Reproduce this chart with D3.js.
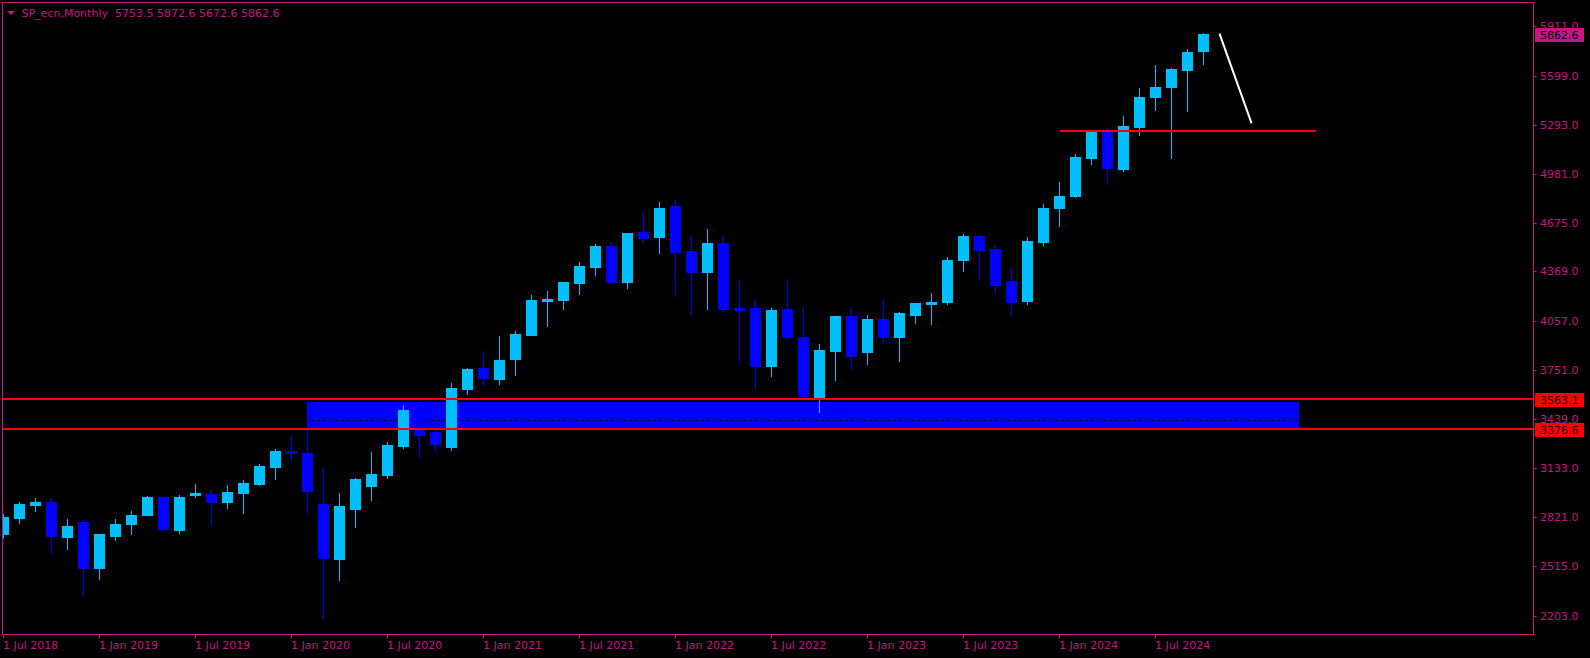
<!DOCTYPE html>
<html>
<head>
<meta charset="utf-8">
<script src="https://cdn.jsdelivr.net/npm/d3@7"></script>
<style>
  html, body { margin: 0; padding: 0; background: #000; }
  svg { display: block; }
  text { font-family: "DejaVu Sans", sans-serif; font-size: 11px; }
</style>
</head>
<body>
<svg id="chart" width="1590" height="658"></svg>
<script>
// ---------- DATA ----------
const symbolTitle = "SP_ecn,Monthly";
const months = [
  "2018-07","2018-08","2018-09","2018-10","2018-11","2018-12",
  "2019-01","2019-02","2019-03","2019-04","2019-05","2019-06","2019-07","2019-08","2019-09","2019-10","2019-11","2019-12",
  "2020-01","2020-02","2020-03","2020-04","2020-05","2020-06","2020-07","2020-08","2020-09","2020-10","2020-11","2020-12",
  "2021-01","2021-02","2021-03","2021-04","2021-05","2021-06","2021-07","2021-08","2021-09","2021-10","2021-11","2021-12",
  "2022-01","2022-02","2022-03","2022-04","2022-05","2022-06","2022-07","2022-08","2022-09","2022-10","2022-11","2022-12",
  "2023-01","2023-02","2023-03","2023-04","2023-05","2023-06","2023-07","2023-08","2023-09","2023-10","2023-11","2023-12",
  "2024-01","2024-02","2024-03","2024-04","2024-05","2024-06","2024-07","2024-08","2024-09","2024-10"
];
const openV = [2715,2817,2897,2915,2698,2790,2503,2704,2780,2834,2950,2740,2960,2966,2918,2973,3030,3138,
  3237,3226,2903,2559,2874,3019,3088,3270,3495,3358,3264,3627,
  3759,3690,3816,3967,4181,4187,4294,4395,4527,4300,4615,4583,
  4778,4495,4363,4546,4137,4137,3772,4130,3954,3577,3866,4086,
  3860,4067,3954,4093,4162,4174,4439,4590,4508,4307,4181,4552,
  4766,4841,5081,5246,5011,5276,5464,5527,5634,5753.5];
const highV = [2845,2916,2941,2940,2814,2805,2716,2813,2859,2953,2958,2965,3029,2991,3023,3055,3155,3249,
  3338,3390,3134,2973,3067,3231,3294,3526,3583,3550,3669,3761,
  3866,3960,3992,4218,4244,4303,4426,4539,4546,4610,4741,4804,
  4816,4590,4634,4590,4306,4187,4137,4319,4143,3910,4087,4137,
  4093,4193,4111,4170,4231,4458,4602,4596,4533,4395,4583,4791,
  4929,5106,5262,5269,5345,5521,5666,5648,5766,5872.6];
const lowV = [2692,2786,2861,2597,2622,2331,2431,2679,2717,2834,2740,2721,2949,2771,2880,2847,3023,3063,
  3174,2847,2188,2425,2761,2930,3069,3258,3201,3226,3245,3596,
  3652,3658,3715,3966,4023,4130,4225,4344,4294,4263,4552,4483,
  4212,4099,4130,4111,3803,3627,3709,3942,3577,3482,3684,3753,
  3784,3935,3803,4042,4036,4162,4369,4325,4231,4093,4162,4533,
  4653,4835,5043,4917,4999,5225,5382,5083,5376,5672.6];
const closeV = [2821,2903,2915,2704,2765,2503,2714,2782,2834,2950,2746,2947,2973,2918,2979,3036,3142,3237,
  3226,2985,2566,2891,3061,3092,3275,3495,3338,3283,3633,3753,
  3698,3810,3973,4187,4193,4300,4401,4527,4300,4608,4577,4766,
  4490,4363,4546,4130,4124,3772,4124,3954,3583,3872,4086,3835,
  4067,3954,4105,4168,4174,4439,4590,4502,4281,4174,4558,4766,
  4841,5087,5250,5018,5282,5464,5527,5640,5750,5862.6];

const priceTicks = [5911, 5599, 5293, 4981, 4675, 4369, 4057, 3751, 3439, 3133, 2821, 2515, 2203];
const timeTickIndex = [0, 6, 12, 18, 24, 30, 36, 42, 48, 54, 60, 66, 72];
const timeTickLabels = ["1 Jul 2018","1 Jan 2019","1 Jul 2019","1 Jan 2020","1 Jul 2020","1 Jan 2021",
  "1 Jul 2021","1 Jan 2022","1 Jul 2022","1 Jan 2023","1 Jul 2023","1 Jan 2024","1 Jul 2024"];

// drawn objects
const levelPrices = [3563.1, 3376.6];          // red horizontal lines with labels
const zoneBars = [19, 81];                     // blue zone: bar index from..to
const zonePrices = [3548, 3376.6];             // blue zone: top, bottom
const zoneMidBars = [19.2, 80.9];
const zoneMidPrice = 3436;                     // dashed line inside zone
const resistBars = [66, 82];
const resistPrice = 5251.6;                    // short red horizontal line
const arrowBars = [76, 78];
const arrowPrices = [5865, 5302.6];            // white trend line
const bidPrice = 5862.6;

// ---------- LAYOUT ----------
const W = 1590, H = 658;
const plot = { left: 2.5, top: 2.5, right: 1533.5, bottom: 634.5 };
const pink = "#C71585", bull = "#00BFFF", bear = "#0000FF";

const x = d3.scaleLinear().domain([0, 72]).range([3.5, 3.5 + 16 * 72]);
const y = d3.scaleLinear().domain([2203, 5911]).range([615.6, 26.4]);
const yr = p => Math.round(y(p));

const svg = d3.select("#chart");
svg.append("rect").attr("width", W).attr("height", H).attr("fill", "#000");

svg.append("defs").append("clipPath").attr("id", "clip")
  .append("rect").attr("x", 3).attr("y", 3).attr("width", plot.right - 3.5).attr("height", plot.bottom - 3.5);

const g = svg.append("g").attr("clip-path", "url(#clip)");

// zone rectangle (background)
g.append("rect")
  .attr("x", x(zoneBars[0]) - 0.5).attr("width", x(zoneBars[1]) - x(zoneBars[0]))
  .attr("y", yr(zonePrices[0])).attr("height", yr(zonePrices[1]) - yr(zonePrices[0]))
  .attr("fill", "#0000FF").attr("shape-rendering", "crispEdges");
g.append("line")
  .attr("x1", x(zoneMidBars[0])).attr("x2", x(zoneMidBars[1]))
  .attr("y1", yr(zoneMidPrice) + 0.5).attr("y2", yr(zoneMidPrice) + 0.5)
  .attr("stroke", "#000020").attr("stroke-width", 1).attr("stroke-dasharray", "3,3")
  .attr("shape-rendering", "crispEdges");

// candles
const bars = months.map((m, i) => ({ i, o: openV[i], h: highV[i], l: lowV[i], c: closeV[i] }));
const cg = g.append("g");
bars.forEach(b => {
  const cx = x(b.i);
  const col = b.c >= b.o ? bull : bear;
  cg.append("line")
    .attr("x1", cx).attr("x2", cx)
    .attr("y1", yr(b.h)).attr("y2", yr(b.l) + 1)
    .attr("stroke", col).attr("stroke-width", 1).attr("shape-rendering", "crispEdges");
  const t = yr(Math.max(b.o, b.c));
  const btm = yr(Math.min(b.o, b.c));
  cg.append("rect")
    .attr("x", cx - 5.5).attr("width", 11)
    .attr("y", t).attr("height", Math.max(2, btm - t + 1))
    .attr("fill", col).attr("shape-rendering", "crispEdges");
});

// red level lines
levelPrices.forEach(p => {
  g.append("line")
    .attr("x1", plot.left).attr("x2", plot.right)
    .attr("y1", yr(p)).attr("y2", yr(p))
    .attr("stroke", "#FF0000").attr("stroke-width", 2).attr("shape-rendering", "crispEdges");
});
// short resistance line
g.append("line")
  .attr("x1", x(resistBars[0])).attr("x2", x(resistBars[1]))
  .attr("y1", yr(resistPrice)).attr("y2", yr(resistPrice))
  .attr("stroke", "#FF0000").attr("stroke-width", 2).attr("shape-rendering", "crispEdges");
// white trend line
g.append("line")
  .attr("x1", x(arrowBars[0])).attr("x2", x(arrowBars[1]))
  .attr("y1", y(arrowPrices[0])).attr("y2", y(arrowPrices[1]))
  .attr("stroke", "#FFFFFF").attr("stroke-width", 2);

// frame
svg.append("rect")
  .attr("x", plot.left).attr("y", plot.top)
  .attr("width", plot.right - plot.left).attr("height", plot.bottom - plot.top)
  .attr("fill", "none").attr("stroke", pink).attr("stroke-width", 1);

// price axis
const yAxis = svg.append("g");
priceTicks.forEach(p => {
  const yy = yr(p) + 0.5;
  yAxis.append("line").attr("x1", plot.right).attr("x2", plot.right + 3)
    .attr("y1", yy).attr("y2", yy).attr("stroke", pink);
  yAxis.append("text").attr("x", 1540).attr("y", yy).attr("dy", "0.36em")
    .attr("fill", pink).text(d3.format(".1f")(p));
});

// time axis
const xAxis = svg.append("g");
timeTickIndex.forEach((idx, k) => {
  const xx = x(idx);
  xAxis.append("line").attr("x1", xx).attr("x2", xx)
    .attr("y1", plot.bottom).attr("y2", plot.bottom + 4).attr("stroke", pink);
  xAxis.append("text").attr("x", xx - 0.5).attr("y", 649)
    .attr("fill", pink).text(timeTickLabels[k]);
});

// price label boxes
function priceBox(p, fill) {
  const yy = yr(p);
  svg.append("rect").attr("x", 1535).attr("y", yy - 6).attr("width", 49).attr("height", 14)
    .attr("fill", fill);
  svg.append("text").attr("x", 1540).attr("y", yy + 1).attr("dy", "0.36em")
    .attr("fill", "#000").text(d3.format(".1f")(p));
}
priceBox(bidPrice, pink);
levelPrices.forEach(p => priceBox(p, "#FF0000"));

// title
svg.append("path").attr("d", "M7,11 L15,11 L11,15 Z").attr("fill", pink);
svg.append("text").attr("x", 21.5).attr("y", 16.5).attr("fill", pink)
  .attr("xml:space", "preserve")
  .text(symbolTitle + "  " + [openV[75], highV[75], lowV[75], closeV[75]].map(d3.format(".1f")).join(" "));
</script>
</body>
</html>
